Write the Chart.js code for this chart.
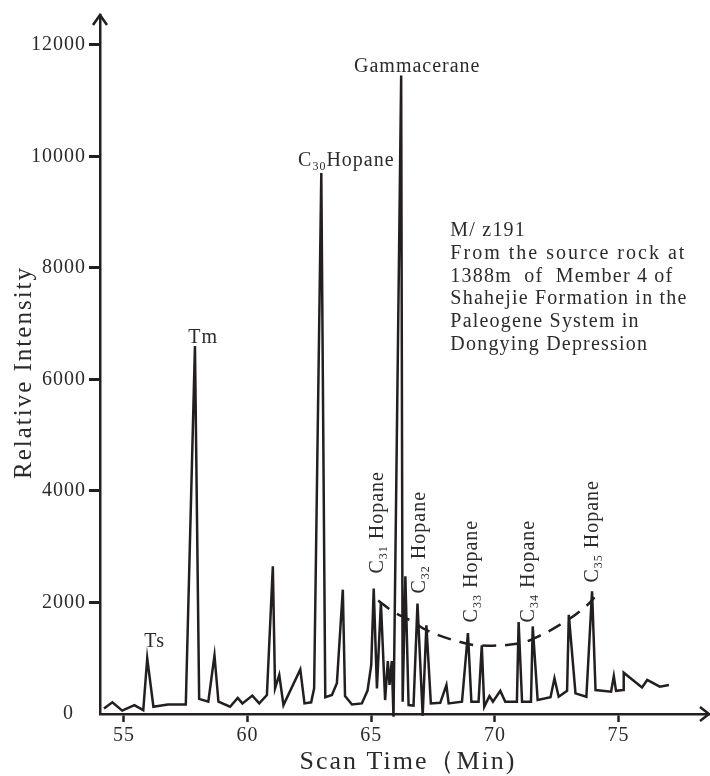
<!DOCTYPE html>
<html>
<head>
<meta charset="utf-8">
<title>M/z 191 chromatogram</title>
<script src="https://cdn.jsdelivr.net/npm/chart.js@4.4.1/dist/chart.umd.min.js"></script>
<style>
  html, body { margin: 0; padding: 0; background: #ffffff; }
  canvas { display: block; }
</style>
</head>
<body>
<canvas id="chromatogram" width="710" height="776"></canvas>
<script>
// Scan time (min) and relative intensity of the m/z 191 trace
const scanTime = [
  54.19, 54.53, 54.93, 55.42, 55.78, 55.94, 56.19, 56.77, 57.50, 57.87,
  58.04, 58.41, 58.66, 58.82, 59.29, 59.60, 59.79, 60.19, 60.47, 60.78,
  61.02, 61.11, 61.28, 61.45, 62.13, 62.30, 62.57, 62.69, 62.98, 63.14,
  63.41, 63.61, 63.85, 63.94, 64.22, 64.62, 64.85, 65.00, 65.10, 65.23,
  65.39, 65.56, 65.67, 65.74, 65.83, 65.90, 66.21, 66.27, 66.38, 66.51,
  66.71, 66.87, 67.08, 67.23, 67.41, 67.79, 68.04, 68.13, 68.67, 68.91,
  69.05, 69.34, 69.47, 69.57, 69.78, 69.92, 70.22, 70.42, 70.89, 70.96,
  71.10, 71.46, 71.53, 71.73, 72.25, 72.41, 72.58, 72.92, 72.99, 73.26,
  73.70, 73.93, 74.07, 74.70, 74.81, 74.90, 75.19, 75.21, 75.95, 76.16,
  76.67, 77.04
];
const intensity = [
  100, 210, 60, 160, 70, 1000, 130, 170, 170, 6600,
  270, 220, 1050, 220, 130, 290, 190, 330, 190, 340,
  2650, 460, 700, 160, 800, 190, 210, 460, 9700, 300,
  340, 550, 2230, 320, 170, 190, 420, 880, 2250, 460,
  2000, 250, 950, 520, 950, -50, 11450, 220, 2470, 160,
  150, 1980, -30, 1590, 190, 200, 520, 190, 220, 1450,
  220, 220, 1230, 130, 320, 220, 415, 220, 220, 1650,
  220, 220, 1570, 250, 300, 640, 310, 415, 1780, 370,
  310, 2200, 430, 400, 680, 415, 430, 740, 475, 610,
  490, 520
];

// Dashed envelope over the C31-C35 homohopanes
const envelopeTime = [65.28, 65.90, 66.58, 67.25, 68.60, 69.41, 70.89, 71.70, 72.92, 73.73, 74.03];
const envelopeValue = [2036, 1830, 1680, 1500, 1290, 1230, 1260, 1380, 1680, 1950, 2090];

const xTicks = [55, 60, 65, 70, 75];
const yTicks = [0, 2000, 4000, 6000, 8000, 10000, 12000];

const INK = '#231f20';
const TEXT = '#2b2b2b';
const SERIF = '"Liberation Serif", "Times New Roman", serif';

// Peak names, anchored in data units; [text, isSubscript] runs
const peakNames = [
  { runs: [['Ts']], x: 56.24, y: 1320, align: 'center' },
  { runs: [['Tm']], x: 58.20, y: 6787, align: 'center' },
  { runs: [['C'], ['30', true], ['Hopane']], x: 62.04, y: 9948, align: 'left' },
  { runs: [['Gammacerane']], x: 66.86, y: 11645, align: 'center' },
  { runs: [['C'], ['31', true], [' Hopane']], x: 65.20, y: 2518, upright: true },
  { runs: [['C'], ['32', true], [' Hopane']], x: 66.90, y: 2161, upright: true },
  { runs: [['C'], ['33', true], [' Hopane']], x: 69.01, y: 1643, upright: true },
  { runs: [['C'], ['34', true], [' Hopane']], x: 71.28, y: 1643, upright: true },
  { runs: [['C'], ['35', true], [' Hopane']], x: 73.87, y: 2357, upright: true }
];

const noteLines = [
  'M/ z191',
  'From the source rock at',
  '1388m  of  Member 4 of',
  'Shahejie Formation in the',
  'Paleogene System in',
  'Dongying Depression'
];

function runWidth(ctx, runs) {
  let w = 0;
  runs.forEach(([t, sub]) => {
    ctx.font = (sub ? '12px ' : '20px ') + SERIF;
    w += ctx.measureText(t).width;
  });
  return w;
}

// Draws text runs from (0,0) along +x, baseline at y=0
function drawRuns(ctx, runs) {
  let x = 0;
  runs.forEach(([t, sub]) => {
    ctx.font = (sub ? '12px ' : '20px ') + SERIF;
    ctx.fillText(t, x, sub ? 4 : 0);
    x += ctx.measureText(t).width;
  });
}

const textPlugin = {
  id: 'chromLabels',
  beforeDraw(chart) {
    chart.ctx.letterSpacing = '1px';
  },
  afterDraw(chart) {
    const { ctx, chartArea, scales: { x, y } } = chart;
    ctx.save();
    ctx.fillStyle = TEXT;
    ctx.textAlign = 'left';
    ctx.textBaseline = 'alphabetic';
    ctx.letterSpacing = '1px';

    // peak names
    peakNames.forEach(lbl => {
      const px = x.getPixelForValue(lbl.x);
      const py = y.getPixelForValue(lbl.y);
      const w = runWidth(ctx, lbl.runs);
      ctx.save();
      if (lbl.upright) {
        ctx.translate(px + 7, py);
        ctx.rotate(-Math.PI / 2);
        drawRuns(ctx, lbl.runs);
      } else {
        ctx.translate(lbl.align === 'center' ? px - w / 2 : px, py + 7);
        drawRuns(ctx, lbl.runs);
      }
      ctx.restore();
    });

    // sample note
    ctx.font = '20px ' + SERIF;
    const nx = x.getPixelForValue(68.20);
    const ny = y.getPixelForValue(8698);
    noteLines.forEach((line, i) => {
      ctx.letterSpacing = i === 1 ? '2px' : '1.2px';
      ctx.fillText(line, nx, ny + 7 + i * 22.8);
    });

    // axis titles
    ctx.letterSpacing = '2px';
    ctx.font = '25px ' + SERIF;
    ctx.textAlign = 'center';
    ctx.textBaseline = 'middle';
    ctx.save();
    ctx.translate(24, (chartArea.top + chartArea.bottom) / 2 + 8);
    ctx.rotate(-Math.PI / 2);
    ctx.fillText('Relative Intensity', 0, 0);
    ctx.restore();
    ctx.font = '26px ' + SERIF;
    ctx.fillText('Scan Time\uFF08Min)', (chartArea.left + chartArea.right) / 2 + 3, 762);

    // arrow heads on both axes
    ctx.strokeStyle = INK;
    ctx.lineWidth = 2.5;
    ctx.lineJoin = 'miter';
    ctx.beginPath();
    ctx.moveTo(chartArea.left - 7, chartArea.top + 10);
    ctx.lineTo(chartArea.left, chartArea.top);
    ctx.lineTo(chartArea.left + 7, chartArea.top + 10);
    ctx.moveTo(chartArea.right - 10, chartArea.bottom - 7);
    ctx.lineTo(chartArea.right - 1, chartArea.bottom);
    ctx.lineTo(chartArea.right - 10, chartArea.bottom + 7);
    ctx.stroke();
    ctx.restore();
  }
};

new Chart(document.getElementById('chromatogram'), {
  type: 'line',
  data: {
    datasets: [
      {
        label: 'm/z 191',
        data: scanTime.map((t, i) => ({ x: t, y: intensity[i] })),
        borderColor: INK,
        borderWidth: 2.5,
        pointRadius: 0,
        tension: 0,
        clip: 6
      },
      {
        label: 'envelope',
        data: envelopeTime.map((t, i) => ({ x: t, y: envelopeValue[i] })),
        borderColor: INK,
        borderWidth: 2.5,
        borderDash: [14, 9],
        pointRadius: 0,
        tension: 0.4
      }
    ]
  },
  options: {
    responsive: false,
    animation: false,
    events: [],
    layout: { padding: { top: 12, right: 0, left: 0, bottom: 0 } },
    plugins: { legend: { display: false }, tooltip: { enabled: false } },
    scales: {
      x: {
        type: 'linear',
        min: 54.03,
        max: 78.7,
        afterFit: s => { s.height = 62; },
        afterBuildTicks: s => { s.ticks = xTicks.map(v => ({ value: v })); },
        border: { display: true, color: INK, width: 2.5 },
        grid: { drawOnChartArea: false, drawTicks: true, tickLength: 8, tickWidth: 2.5, tickColor: INK },
        ticks: { color: TEXT, padding: 2, maxRotation: 0, font: { family: SERIF, size: 20 } }
      },
      y: {
        min: 0,
        max: 12536,
        afterFit: s => { s.width = 100; },
        afterBuildTicks: s => { s.ticks = yTicks.map(v => ({ value: v })); },
        border: { display: true, color: INK, width: 2.5 },
        grid: {
          drawOnChartArea: false,
          drawTicks: true,
          tickLength: 11,
          tickWidth: 3,
          tickColor: c => (c.tick && c.tick.value === 0 ? 'rgba(0,0,0,0)' : INK)
        },
        ticks: {
          color: TEXT,
          padding: 3,
          font: { family: SERIF, size: 20 },
          callback: v => (v === 0 ? '0  ' : String(v))
        }
      }
    }
  },
  plugins: [textPlugin]
});
</script>
</body>
</html>
